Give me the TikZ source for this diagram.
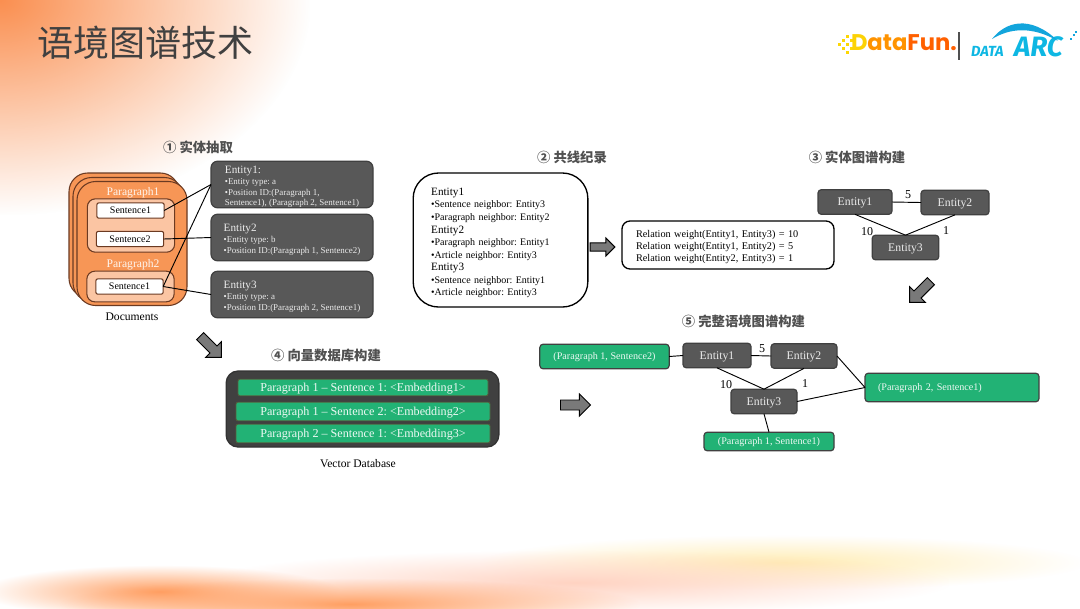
\documentclass[tikz,border=0pt]{standalone}
\usepackage{fontspec}
\setmainfont{Liberation Serif}
\newfontfamily\cjkfont{Noto Sans CJK SC}
\newfontfamily\logofont{Fira Sans}
\newfontfamily\funfont{Poppins}
\usepackage{tikz}
\usetikzlibrary{shapes,shapes.arrows,arrows.meta,fadings}
\usepackage{xcolor}
\definecolor{docorange}{HTML}{F79656}
\definecolor{paralight}{HTML}{FBC5A3}
\definecolor{boxbrown}{HTML}{6B3A22}
\definecolor{entitygray}{HTML}{585858}
\definecolor{dbgray}{HTML}{404040}
\definecolor{softgreen}{HTML}{22B275}
\definecolor{headgray}{HTML}{505050}
\definecolor{arcblue}{HTML}{12A5DC}
\definecolor{glowcorner}{HTML}{FA8F50}
\definecolor{gloworange}{HTML}{FF9F62}
\definecolor{glowpink}{HTML}{FFD3C2}
\definecolor{glowyellow}{HTML}{FFEDB5}
\tikzfading[name=softblob, inner color=transparent!0, outer color=transparent!100]
\frenchspacing
\newcommand{\entityhead}[1]{{\fontsize{8.4}{10}\selectfont #1}}
\newcommand{\stephead}[1]{{\cjkfont\bfseries #1}}

\begin{document}
\begin{tikzpicture}[
    x=0.75pt, y=-0.75pt,
    every node/.style={inner sep=0pt, outer sep=0pt},
    doccard/.style={rectangle, rounded corners=14pt, draw=boxbrown, line width=0.8pt, fill=docorange,
                    minimum width=82.5pt, minimum height=93pt},
    parabox/.style={rectangle, rounded corners=6pt, draw=boxbrown, line width=0.8pt, fill=paralight,
                    minimum width=65.5pt},
    sentbox/.style={rectangle, rounded corners=1.5pt, draw=boxbrown, line width=0.8pt, fill=white,
                    minimum width=50.5pt, minimum height=11.5pt, font=\fontsize{7.5}{9}\selectfont},
    paralabel/.style={text=white!90!docorange, font=\fontsize{8.7}{10}\selectfont},
    entitybox/.style={rectangle, rounded corners=5pt, draw=dbgray, line width=0.9pt, fill=entitygray,
                      minimum width=121.5pt, minimum height=35pt, text=white!92!black, align=left,
                      font=\fontsize{6.7}{8}\selectfont},
    graphnode/.style={rectangle, rounded corners=2.5pt, draw=dbgray, line width=0.9pt, fill=entitygray,
                      minimum height=18.5pt, text=white!92!black, text height=5.8pt, text depth=0pt,
                      font=\fontsize{8.8}{10}\selectfont},
    outlinebox/.style={rectangle, draw=black, line width=1pt, fill=white, align=left},
    dbrow/.style={rectangle, rounded corners=1.5pt, draw=boxbrown!70!softgreen, line width=0.6pt, fill=softgreen,
                  text=white!92!softgreen, text height=6pt, text depth=0pt, font=\fontsize{9.1}{11}\selectfont},
    greenbox/.style={rectangle, rounded corners=2.5pt, draw=dbgray, line width=0.9pt, fill=softgreen,
                     text=white!92!softgreen, text height=5.2pt, text depth=0pt, align=left,
                     font=\fontsize{7.6}{9}\selectfont},
    blockarrow/.style={single arrow, draw=black, line width=0.7pt, fill=gray!95!black, inner sep=3.4pt,
                       single arrow head extend=4.6pt, single arrow head indent=0pt,
                       minimum height=22.5pt},
    steplabel/.style={text=headgray, font=\fontsize{10}{12}\selectfont},
    weight/.style={font=\fontsize{9}{11}\selectfont},
    link/.style={draw=black, line width=0.7pt}
]
\useasboundingbox (0,0) rectangle (1080,608);
\begin{scope}
\clip (0,0) rectangle (1080,608);
\fill[white] (0,0) rectangle (1080,608);
\fill[glowcorner, path fading=softblob] (-310,-215) rectangle (310,215);
\fill[glowyellow, path fading=softblob] (480,535) rectangle (1085,590);
\fill[glowpink, path fading=softblob] (200,550) rectangle (950,615);
\fill[gloworange, path fading=softblob] (-20,565) rectangle (340,618);
\fill[gloworange, path fading=softblob] (60,578) rectangle (640,630);
\end{scope}

\node[text=headgray!80!black, anchor=west, font=\fontsize{27}{30}\cjkfont] (title) at (37,43) {语境图谱技术};
\foreach \dotx/\doty in {838/43,842/39,846/35,842/47,846/43,850/39,846/51,850/47}
  \fill[yellow!75!orange] (\dotx,\doty) rectangle ++(2.6,2.6);
\node[anchor=west, font=\fontsize{17}{20}\funfont\bfseries] (datafun) at (851,43)
  {\textcolor{yellow!70!orange}{D}\textcolor{orange!85!yellow}{ata}\textcolor{orange!75!red}{Fun.}};
\fill[headgray] (958.4,32) rectangle (959.8,60);
\node[anchor=west, text=arcblue!80!cyan, font=\fontsize{11}{13}\logofont\bfseries\itshape] (dataword) at (971,51) {DATA};
\node[anchor=west, text=arcblue!80!cyan, font=\fontsize{21}{23}\logofont\bfseries\itshape] (arcword) at (1014,47) {ARC};
\fill[arcblue] (992,39) .. controls (1005,22) and (1030,14) .. (1058,41)
  .. controls (1032,26) and (1010,28) .. (992,39);
\foreach \dotx/\doty in {1070/38,1073/34,1075/31}
  \fill[arcblue] (\dotx,\doty) rectangle ++(2,2);

\node[steplabel] (step1) at (198,147) {\stephead{① 实体抽取}};
\node[doccard] (doc3) at (124,235) {};
\node[doccard] (doc2) at (128,239.5) {};
\node[doccard] (doc1) at (132,243.5) {};
\node[paralabel] (p1label) at (133,193) {Paragraph1};
\node[parabox, minimum height=40pt] (p1) at (131,225.5) {};
\node[sentbox] (s1) at (130.5,210.5) {Sentence1};
\node[sentbox] (s2) at (130,239) {Sentence2};
\node[paralabel] (p2label) at (133,265) {Paragraph2};
\node[parabox, minimum height=23pt] (p2) at (130.5,286.5) {};
\node[sentbox] (s3) at (129.5,286.5) {Sentence1};
\node[font=\fontsize{8.7}{10}\selectfont] (doclabel) at (132,317) {Documents};

\node[entitybox] (ent1) at (292,184.5) {\rule{0pt}{9.5pt}\entityhead{Entity1:}\\•Entity type: a\\•Position ID:(Paragraph 1,\\Sentence1), (Paragraph 2, Sentence1)};
\node[entitybox] (ent2) at (292,237.5) {\rule{0pt}{9pt}\entityhead{Entity2}\\•Entity type: b\\•Position ID:(Paragraph 1, Sentence2)};
\node[entitybox] (ent3) at (292,294.5) {\rule{0pt}{9pt}\entityhead{Entity3}\\•Entity type: a\\•Position ID:(Paragraph 2, Sentence1)};
\draw[link] (s1.east) -- (ent1.west);
\draw[link] (s2.east) -- (ent2.west);
\draw[link] (s3.east) -- (ent1.west);
\draw[link] (s3.east) -- (ent3.west);

\node[steplabel] (step2) at (572,157) {\stephead{② 共线纪录}};
\node[outlinebox, rounded corners=19pt, minimum width=131pt, minimum height=100.5pt, text width=104pt,
      font=\fontsize{7.5}{9.4}\selectfont] (neighbors) at (500.5,240)
  {\rule{0pt}{10pt}\entityhead{Entity1}\\•Sentence neighbor: Entity3\\•Paragraph neighbor: Entity2\\\entityhead{Entity2}\\•Paragraph neighbor: Entity1\\•Article neighbor: Entity3\\\entityhead{Entity3}\\•Sentence neighbor: Entity1\\•Article neighbor: Entity3};
\node[blockarrow, minimum height=18.5pt, minimum width=13.5pt, inner sep=2.6pt, single arrow head extend=3.6pt] (arrow2) at (600.5,247) {};
\node[outlinebox, rounded corners=6pt, minimum width=159pt, minimum height=36pt, text width=138pt,
      font=\fontsize{7.7}{9}\selectfont] (relations) at (728,245)
  {\rule{0pt}{8.5pt}Relation weight(Entity1, Entity3) = 10\\Relation weight(Entity1, Entity2) = 5\\Relation weight(Entity2, Entity3) = 1};

\node[steplabel] (step3) at (857,157) {\stephead{③ 实体图谱构建}};
\node[graphnode, minimum width=55.5pt] (g1) at (855,202) {Entity1};
\node[graphnode, minimum width=51pt] (g2) at (955,202.5) {Entity2};
\node[graphnode, minimum width=50pt] (g3) at (905.5,247.5) {Entity3};
\draw[link] (g1.east) -- (g2.west);
\draw[link] (g1.south) -- (g3.north);
\draw[link] (g2.south) -- (g3.north);
\node[weight] (w12) at (908,195) {5};
\node[weight] (w13) at (867,232) {10};
\node[weight] (w23) at (946,231) {1};
\node[blockarrow, rotate=225, minimum width=16pt] (arrow3) at (922,290) {};

\node[blockarrow, rotate=-45, minimum width=16pt] (arrow1) at (209,345) {};
\node[steplabel] (step4) at (326,355) {\stephead{④ 向量数据库构建}};
\node[rectangle, rounded corners=9pt, draw=dbgray!80!black, line width=1pt, fill=dbgray,
      minimum width=204.5pt, minimum height=57pt] (vecdb) at (362.5,409) {};
\node[dbrow, minimum width=187.5pt, minimum height=12.5pt] (row1) at (363,387.5) {Paragraph 1 – Sentence 1: <Embedding1>};
\node[dbrow, minimum width=190.5pt, minimum height=14pt] (row2) at (363,411.5) {Paragraph 1 – Sentence 2: <Embedding2>};
\node[dbrow, minimum width=190.5pt, minimum height=14pt] (row3) at (363,433.5) {Paragraph 2 – Sentence 1: <Embedding3>};
\node[font=\fontsize{8.7}{10}\selectfont] (dblabel) at (358,464) {Vector Database};

\node[blockarrow, minimum width=16pt] (arrow4) at (573,405) {};
\node[steplabel] (step5) at (743.5,321) {\stephead{⑤ 完整语境图谱构建}};
\node[greenbox, minimum width=97pt, minimum height=18.5pt] (src1) at (604.5,356.5) {(Paragraph 1, Sentence2)};
\node[graphnode, minimum width=51pt] (f1) at (717,355.5) {Entity1};
\node[graphnode, minimum width=49.5pt] (f2) at (804,356) {Entity2};
\node[graphnode, minimum width=49.5pt] (f3) at (764,401.5) {Entity3};
\node[greenbox, minimum width=130.5pt, minimum height=21.5pt, text width=111pt] (src2) at (952,387.5) {(Paragraph 2, Sentence1)};
\node[greenbox, minimum width=97.5pt, minimum height=14pt] (src3) at (769,441.5) {(Paragraph 1, Sentence1)};
\draw[link] (src1.east) -- (f1.west);
\draw[link] (f1.east) -- (f2.west);
\draw[link] (f1.south) -- (f3.north);
\draw[link] (f2.south) -- (f3.north);
\draw[link] (f2.east) -- (src2.west);
\draw[link] (f3.east) -- (src2.west);
\draw[link] (f3.south) -- (src3.north);
\node[weight] (w45) at (762,349) {5};
\node[weight] (w46) at (726,385) {10};
\node[weight] (w56) at (805,384) {1};
\end{tikzpicture}
\end{document}
